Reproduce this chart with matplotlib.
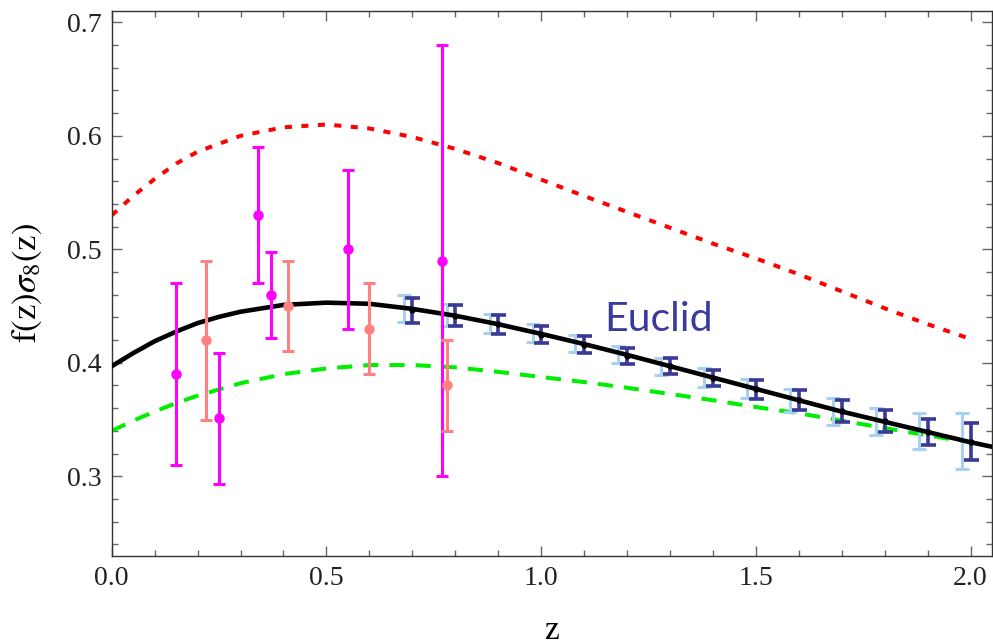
import matplotlib

matplotlib.use("Agg")
import matplotlib.pyplot as plt
from matplotlib.ticker import MultipleLocator, FormatStrFormatter

# --- curves ---
z_black = [0.0, 0.05, 0.1, 0.15, 0.2, 0.25, 0.3, 0.4, 0.5, 0.6, 0.7, 0.8, 0.9, 1.0,
           1.1, 1.2, 1.3, 1.4, 1.5, 1.6, 1.7, 1.8, 1.9, 2.0, 2.05]
fs8_black = [0.397, 0.4085, 0.419, 0.4275, 0.435, 0.4405, 0.445, 0.451, 0.453, 0.452,
             0.4475, 0.4415, 0.434, 0.4255, 0.4165, 0.407, 0.397, 0.387, 0.377, 0.367,
             0.357, 0.348, 0.339, 0.330, 0.326]

z_green = [0.0, 0.05, 0.1, 0.15, 0.2, 0.3, 0.4, 0.5, 0.6, 0.7, 0.8, 0.9, 1.0,
           1.1, 1.2, 1.3, 1.4, 1.5, 1.6, 1.7, 1.8, 1.9, 2.0]
fs8_green = [0.340, 0.349, 0.357, 0.3645, 0.371, 0.382, 0.390, 0.395, 0.398, 0.398,
             0.396, 0.392, 0.3875, 0.383, 0.378, 0.3725, 0.367, 0.361, 0.3555, 0.349,
             0.3425, 0.336, 0.330]

z_red = [0.0, 0.05, 0.1, 0.15, 0.2, 0.3, 0.4, 0.5, 0.6, 0.7, 0.8, 0.9, 1.0,
         1.1, 1.2, 1.3, 1.4, 1.5, 1.6, 1.7, 1.8, 1.9, 2.0]
fs8_red = [0.530, 0.547, 0.562, 0.5755, 0.586, 0.600, 0.6075, 0.610, 0.6065, 0.599,
           0.5885, 0.576, 0.5615, 0.547, 0.533, 0.519, 0.505, 0.492, 0.478, 0.463,
           0.448, 0.434, 0.421]

# --- measurements ---
z_mag = [0.15, 0.25, 0.34, 0.37, 0.55, 0.77]
fs8_mag = [0.39, 0.351, 0.53, 0.46, 0.50, 0.49]
err_mag = [0.08, 0.058, 0.06, 0.038, 0.07, 0.19]

z_sal = [0.22, 0.41, 0.60, 0.78]
fs8_sal = [0.42, 0.45, 0.43, 0.38]
err_sal = [0.07, 0.04, 0.04, 0.04]

# Euclid forecasts
z_euc = [0.7, 0.8, 0.9, 1.0, 1.1, 1.2, 1.3, 1.4, 1.5, 1.6, 1.7, 1.8, 1.9, 2.0]
fs8_euc = [0.4463, 0.4414, 0.4338, 0.4248, 0.416, 0.4063, 0.397, 0.3866, 0.3765,
           0.367, 0.3574, 0.3486, 0.339, 0.3306]
err_euc = [0.011, 0.0093, 0.008, 0.0074, 0.0074, 0.007, 0.0072, 0.0074, 0.008,
           0.0088, 0.0096, 0.0096, 0.0118, 0.016]

z_euc2 = [0.68, 0.78, 0.88, 0.98, 1.08, 1.18, 1.28, 1.38, 1.48, 1.58, 1.68, 1.78, 1.88, 1.98]
fs8_euc2 = [0.448, 0.442, 0.435, 0.426, 0.417, 0.407, 0.397, 0.387, 0.377, 0.367,
            0.357, 0.348, 0.340, 0.331]
err_euc2 = [0.0118, 0.0096, 0.0084, 0.008, 0.0076, 0.0074, 0.0076, 0.0085, 0.0084,
            0.0103, 0.0118, 0.012, 0.016, 0.0245]

plt.rcParams["mathtext.fontset"] = "stix"
plt.rcParams["font.family"] = "Liberation Serif"

fig = plt.figure(figsize=(9.93, 6.44), dpi=100)
ax = fig.add_axes([0.1125, 0.1371, 0.8865, 0.8458])

ax.plot(z_red, fs8_red, color="#ff0000", lw=2.9, ls=(0, (1.75, 2.35)), zorder=2)
ax.plot(z_green, fs8_green, color="#00ee00", lw=2.9, ls=(0, (3.75, 2.75)), zorder=2)

ax.errorbar(z_euc2, fs8_euc2, yerr=err_euc2, fmt="none", ecolor="#a8d0f0",
            elinewidth=2.2, capsize=4.7, capthick=2.2, zorder=3)
ax.errorbar(z_euc, fs8_euc, yerr=err_euc, fmt="none", ecolor="#3a3a96",
            elinewidth=2.6, capsize=5.4, capthick=2.6, zorder=4)

ax.plot(z_black, fs8_black, color="black", lw=3.3, zorder=5)
ax.plot(z_euc, fs8_euc, "o", color="black", ms=3.5, zorder=6)

ax.errorbar(z_mag, fs8_mag, yerr=err_mag, fmt="o", color="#ff00ff", ms=6.5,
            elinewidth=2.2, capsize=4.4, capthick=2.2, zorder=7)
ax.errorbar(z_sal, fs8_sal, yerr=err_sal, fmt="o", color="#ff8080", ms=6.5,
            elinewidth=2.2, capsize=4.4, capthick=2.2, zorder=7)

ax.text(1.148, 0.4278, "Euclid", family="Lato", fontsize=29.5, color="#3a3a9c",
        ha="left", va="baseline")

ax.set_xlim(0.0, 2.05)
ax.set_ylim(0.23, 0.71)
ax.xaxis.set_major_locator(MultipleLocator(0.5))
ax.xaxis.set_minor_locator(MultipleLocator(0.1))
ax.yaxis.set_major_locator(MultipleLocator(0.1))
ax.yaxis.set_minor_locator(MultipleLocator(0.02))
ax.xaxis.set_major_formatter(FormatStrFormatter("%.1f"))
ax.yaxis.set_major_formatter(FormatStrFormatter("%.1f"))

ax.tick_params(which="both", direction="in", top=True, right=True, color="#666666",
               width=1.0, labelsize=20, labelcolor="#222222")
ax.tick_params(which="major", length=7.5, pad=7.5)
ax.tick_params(which="minor", length=4.3)
for s in ax.spines.values():
    s.set_color("#333333")
    s.set_linewidth(1.0)

ax.set_xlabel("z", fontsize=24)
ax.xaxis.label.set_va("baseline")
ax.xaxis.set_label_coords(0.5, -0.152)
ax.set_ylabel(r"$\mathrm{f(z)}\sigma_8\mathrm{(z)}$", fontsize=25)
ax.yaxis.label.set_va("center")
ax.yaxis.set_label_coords(-0.096, 0.5)

fig.savefig("out.png", dpi=100)
